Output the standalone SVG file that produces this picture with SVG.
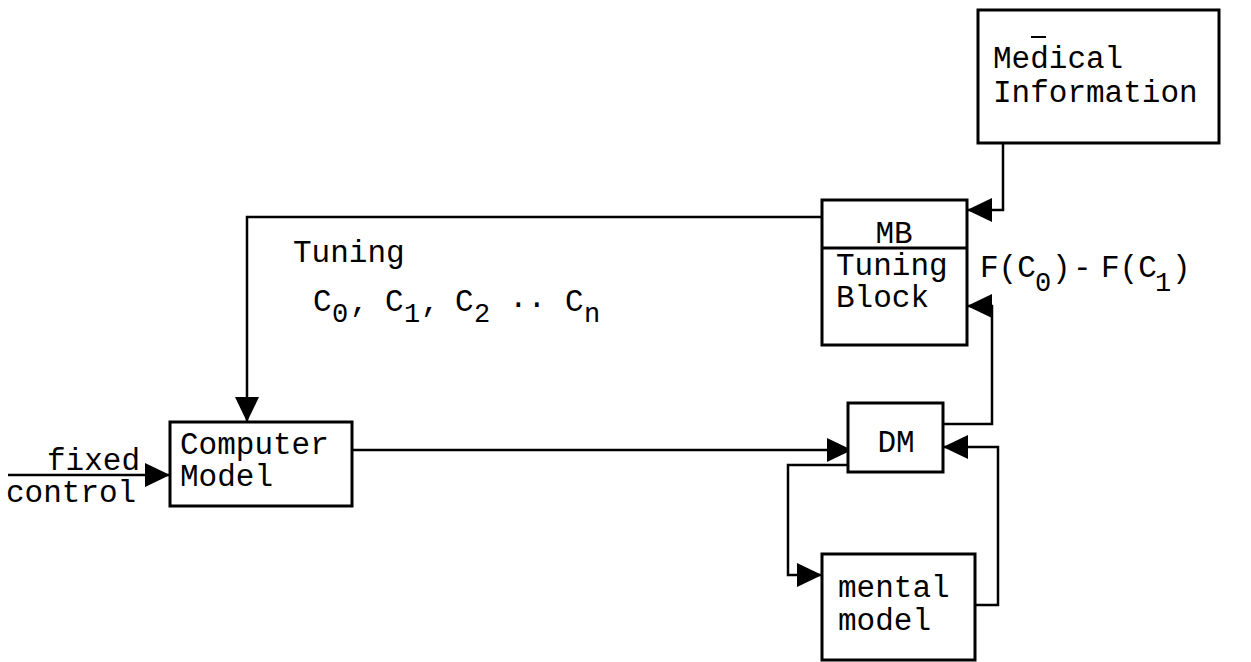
<svg xmlns="http://www.w3.org/2000/svg" width="1251" height="662" viewBox="0 0 1251 662">
<style>
.box{fill:#fff;stroke:#000;stroke-width:3}
.ln{fill:none;stroke:#000;stroke-width:2.5}
.t{font-family:"Liberation Mono","Courier New",monospace;font-size:31px;fill:#000}
.sub{font-size:27px}
</style>
<defs>
<marker id="ah" markerUnits="userSpaceOnUse" markerWidth="26" markerHeight="26" refX="25" refY="12" orient="auto">
<path d="M0,0 L25,12 L0,24 Z" fill="#000"/>
</marker>
</defs>
<rect width="1251" height="662" fill="#fff"/>
<g id="connectors">
<path class="ln" d="M1003,143 V210 H967" marker-end="url(#ah)"/>
<path class="ln" d="M822,217 H247 V422" marker-end="url(#ah)"/>
<path class="ln" d="M8,475 H170" marker-end="url(#ah)"/>
<path class="ln" d="M352,450 H852" marker-end="url(#ah)"/>
<path class="ln" d="M848,465 H788 V575 H822" marker-end="url(#ah)"/>
<path class="ln" d="M975,605 H998 V447 H943" marker-end="url(#ah)"/>
<path class="ln" d="M943,424 H992 V306 H967" marker-end="url(#ah)"/>
</g>
<g id="medical-information">
<rect class="box" x="978" y="10" width="241" height="133"/>
<line x1="1031" y1="37" x2="1046" y2="37" stroke="#000" stroke-width="2"/>
<text class="t" x="993" y="68">Medical</text>
<text class="t" x="993" y="102">Information</text>
</g>
<g id="mb-tuning-block">
<rect class="box" x="822" y="200" width="145" height="145"/>
<line x1="822" y1="248" x2="967" y2="248" stroke="#000" stroke-width="3"/>
<text class="t" x="894" y="243" text-anchor="middle">MB</text>
<text class="t" x="836" y="275">Tuning</text>
<text class="t" x="836" y="307">Block</text>
</g>
<g id="computer-model">
<rect class="box" x="170" y="422" width="182" height="84"/>
<text class="t" x="180" y="454">Computer</text>
<text class="t" x="180" y="486">Model</text>
</g>
<g id="dm">
<rect class="box" x="848" y="403" width="95" height="69"/>
<text class="t" x="896" y="452" text-anchor="middle">DM</text>
</g>
<g id="mental-model">
<rect class="box" x="822" y="554" width="153" height="106"/>
<text class="t" x="838" y="597">mental</text>
<text class="t" x="838" y="630">model</text>
</g>
<g id="labels">
<text class="t" x="47" y="470">fixed</text>
<text class="t" x="6" y="502">control</text>
<text class="t" x="293" y="262">Tuning</text>
<text class="t"><tspan x="313" y="311">C</tspan><tspan class="sub" x="332" y="322">0</tspan><tspan x="350" y="311">,</tspan><tspan x="385" y="311">C</tspan><tspan class="sub" x="404" y="322">1</tspan><tspan x="421" y="311">,</tspan><tspan x="455" y="311">C</tspan><tspan class="sub" x="474" y="322">2</tspan><tspan x="509" y="307">..</tspan><tspan x="565" y="311">C</tspan><tspan class="sub" x="584" y="322">n</tspan></text>
<text class="t"><tspan x="980" y="277">F(C</tspan><tspan class="sub" x="1035" y="291">0</tspan><tspan x="1052" y="277">)</tspan><tspan x="1073" y="277">-</tspan><tspan x="1101" y="277">F(C</tspan><tspan class="sub" x="1155" y="291">1</tspan><tspan x="1172" y="277">)</tspan></text>
</g>
</svg>
